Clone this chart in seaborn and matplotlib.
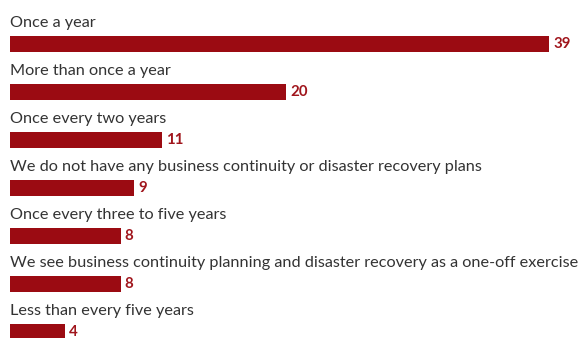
import matplotlib
matplotlib.use("Agg")
import matplotlib.pyplot as plt
import seaborn as sns
import pandas as pd

# Survey responses: how often business continuity / disaster recovery plans are tested
categories = [
    "Once a year",
    "More than once a year",
    "Once every two years",
    "We do not have any business continuity or disaster recovery plans",
    "Once every three to five years",
    "We see business continuity planning and disaster recovery as a one-off exercise",
    "Less than every five years",
]
values = [39, 20, 11, 9, 8, 8, 4]

df = pd.DataFrame({"category": categories, "value": values})

sns.set_theme(style="white")
plt.rcParams["font.family"] = ["Lato", "DejaVu Sans"]

BAR = "#9b0b12"
LABEL = "#a0151c"
TEXT = "#333333"

W, H, DPI = 581, 338, 100
fig = plt.figure(figsize=(W / DPI, H / DPI), dpi=DPI)
ax = fig.add_axes([0, 0, 1, 1])

sns.barplot(data=df, x="value", y="category", orient="h", color=BAR,
            width=1 / 3, saturation=1, linewidth=0, ax=ax)

# px per unit: value 39 spans 539 px starting at x=10
ppu = 539 / 39
ax.set_xlim(-10 / ppu, (W - 10) / ppu)
# bar centres 48 px apart, the first at 44 px from the top
ax.set_ylim((H - 44) / 48, -44 / 48)
ax.axis("off")

for i, (cat, v) in enumerate(zip(categories, values)):
    ax.text(0, i - 17 / 48, cat, ha="left", va="baseline",
            fontsize=11.7, color=TEXT)
    ax.text(v + 4 / ppu, i + 4.5 / 48, str(v), ha="left", va="baseline",
            fontsize=10.8, fontweight="bold", color=LABEL)

fig.savefig("out.png", dpi=DPI)
